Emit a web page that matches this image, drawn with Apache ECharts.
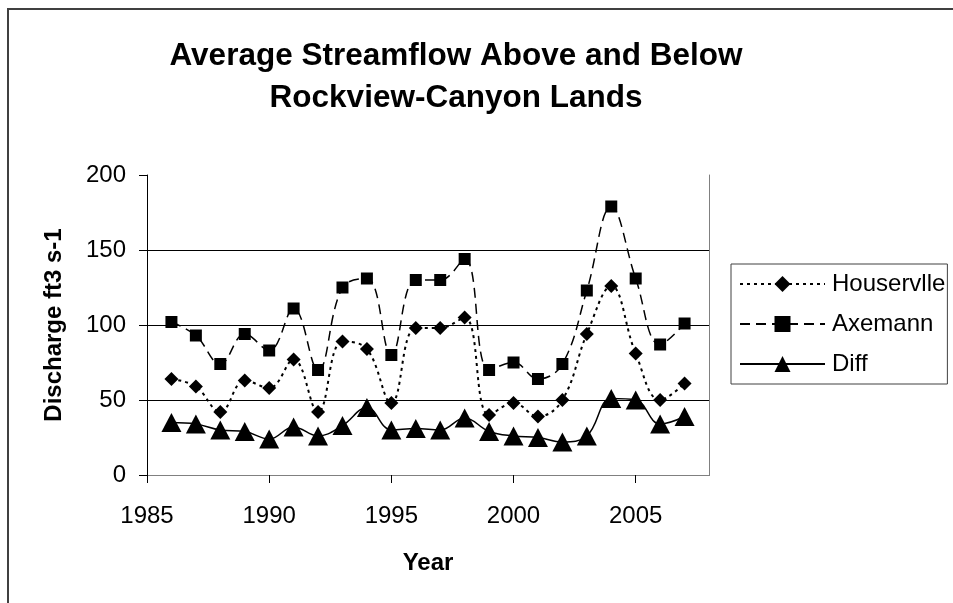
<!DOCTYPE html>
<html>
<head>
<meta charset="utf-8">
<script src="https://cdn.jsdelivr.net/npm/echarts@6/dist/echarts.min.js"></script>
<style>
  html, body { margin: 0; padding: 0; background: #fff; }
  #chart { width: 953px; height: 603px; }
</style>
</head>
<body>
<div id="chart"></div>
<script>
// values
var years = [1986, 1987, 1988, 1989, 1990, 1991, 1992, 1993, 1994, 1995, 1996,
             1997, 1998, 1999, 2000, 2001, 2002, 2003, 2004, 2005, 2006, 2007];
var houservlle = [64, 59, 42, 63, 58, 77, 42, 89, 84, 48, 98,
                  98, 105, 40, 48, 39, 50, 94, 126, 81, 50, 61];
var axemann = [102, 93, 74, 94, 83, 111, 70, 125, 131, 80, 130,
               130, 144, 70, 75, 64, 74, 123, 179, 131, 87, 101];
var diff = [35, 34, 30, 29, 24, 32, 26, 33, 45, 30, 31,
            30, 38, 29, 26, 25, 22, 26, 51, 50, 34, 39];
var xTicks = [1985, 1990, 1995, 2000, 2005];

var font = 'Liberation Sans, Arial, sans-serif';

function pairs(vals) {
	return years.map(function (y, i) { return [y, vals[i]]; });
}

var chart = echarts.init(document.getElementById('chart'));
var option = {
	backgroundColor: '#fff',
	animation: false,
	graphic: [{
		type: 'rect',
		shape: { x: 8, y: 9, width: 1000, height: 700 },
		style: { fill: 'none', stroke: '#404040', lineWidth: 2 },
		silent: true
	}],
	title: {
		text: 'Average Streamflow Above and Below\nRockview-Canyon Lands',
		left: 451,
		top: 30,
		textAlign: 'center',
		textStyle: {
			fontFamily: font, fontSize: 31.5, fontWeight: 'bold',
			color: '#000', lineHeight: 42
		}
	},
	legend: {
		orient: 'vertical',
		left: 731,
		top: 264,
		padding: [8, 2, 8, 8],
		itemWidth: 85,
		itemHeight: 20,
		itemGap: 16,
		borderColor: '#404040',
		borderWidth: 1,
		textStyle: { fontFamily: font, fontSize: 24, color: '#000', padding: [0, 0, 0, 2] },
		data: ['Houservlle', 'Axemann', 'Diff']
	},
	grid: { left: 147, top: 175, right: 244, bottom: 128 },
	xAxis: [{
		type: 'value',
		min: 1985, max: 2008, interval: 5,
		name: 'Year',
		nameLocation: 'middle',
		nameGap: 76,
		nameTextStyle: { fontFamily: font, fontSize: 24, fontWeight: 'bold', color: '#000' },
		axisLine: { lineStyle: { color: '#000', width: 1 } },
		axisTick: { show: true, inside: false, length: 8, customValues: xTicks, lineStyle: { color: '#000' } },
		axisLabel: {
			customValues: xTicks, margin: 29, fontFamily: font, fontSize: 24, color: '#000',
			formatter: function (v) { return String(v); }
		},
		splitLine: { show: false }
	}, {
		type: 'value',
		position: 'top',
		min: 1985, max: 2008,
		axisLine: { show: true, lineStyle: { color: '#808080', width: 1 } },
		axisTick: { show: false },
		axisLabel: { show: false },
		splitLine: { show: false }
	}],
	yAxis: [{
		type: 'value',
		min: 0, max: 200, interval: 50,
		name: 'Discharge ft3 s-1',
		nameLocation: 'middle',
		nameGap: 81,
		nameTextStyle: { fontFamily: font, fontSize: 24, fontWeight: 'bold', color: '#000' },
		axisLine: { show: true, lineStyle: { color: '#000', width: 1 } },
		axisTick: { show: true, inside: false, length: 8, lineStyle: { color: '#000' } },
		axisLabel: { margin: 21, fontFamily: font, fontSize: 24, color: '#000' },
		splitLine: { show: true, showMaxLine: false, lineStyle: { color: '#000', width: 1 } }
	}, {
		type: 'value',
		position: 'right',
		min: 0, max: 200,
		axisLine: { show: true, lineStyle: { color: '#808080', width: 1 } },
		axisTick: { show: false },
		axisLabel: { show: false },
		splitLine: { show: false }
	}],
	series: [{
		name: 'Houservlle',
		type: 'line',
		data: pairs(houservlle),
		smooth: 0.4,
		symbol: 'diamond',
		symbolSize: 14,
		itemStyle: { color: '#000' },
		lineStyle: { color: '#000', width: 2, type: [3, 4] }
	}, {
		name: 'Axemann',
		type: 'line',
		data: pairs(axemann),
		smooth: 0.4,
		symbol: 'rect',
		symbolSize: 12,
		itemStyle: { color: '#000' },
		lineStyle: { color: '#000', width: 1.5, type: [10, 6] }
	}, {
		name: 'Diff',
		type: 'line',
		data: pairs(diff),
		smooth: 0.4,
		symbol: 'triangle',
		symbolSize: [20, 19],
		itemStyle: { color: '#000' },
		lineStyle: { color: '#000', width: 1.5, type: 'solid' }
	}]
};
chart.setOption(option);
</script>
</body>
</html>
